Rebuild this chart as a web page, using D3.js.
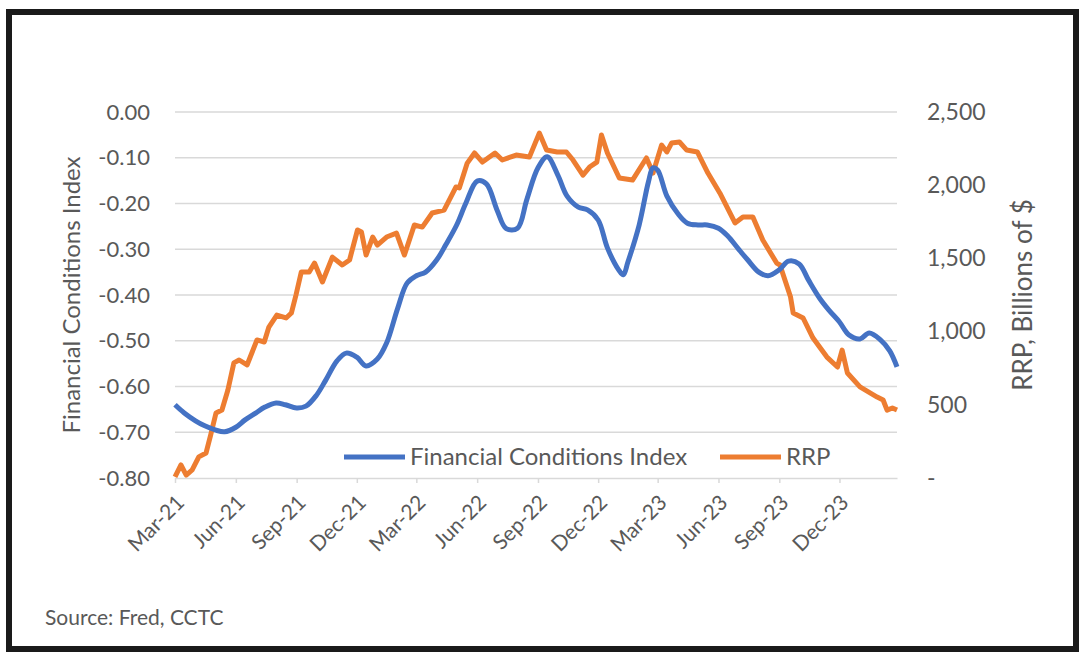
<!DOCTYPE html>
<html>
<head>
<meta charset="utf-8">
<script src="https://cdn.jsdelivr.net/npm/d3@7"></script>
<style>
  body { margin: 0; background: #fff; }
  text { font-family: Lato, "Open Sans", sans-serif; fill: #595959; }
</style>
</head>
<body>
<div class="canvas"></div>
<script>
// FCI, semi-monthly readings
const fciDates = ['2021-03-01','2021-03-15','2021-04-01','2021-04-15','2021-05-01','2021-05-15','2021-06-01','2021-06-15',
  '2021-07-01','2021-07-15','2021-08-01','2021-08-15','2021-09-01','2021-09-15','2021-10-01','2021-10-15',
  '2021-11-01','2021-11-15','2021-12-01','2021-12-15','2022-01-01','2022-01-15','2022-02-01','2022-02-15',
  '2022-03-01','2022-03-15','2022-04-01','2022-04-15','2022-05-01','2022-05-15','2022-06-01','2022-06-15',
  '2022-07-01','2022-07-15','2022-08-01','2022-08-15','2022-09-01','2022-09-15','2022-10-01','2022-10-15',
  '2022-11-01','2022-11-15','2022-12-01','2022-12-15','2023-01-01','2023-01-08','2023-01-15','2023-02-01',
  '2023-02-15','2023-02-22','2023-03-01','2023-03-15','2023-04-01','2023-04-15','2023-05-01','2023-05-15',
  '2023-06-01','2023-06-15','2023-07-01','2023-07-15','2023-08-01','2023-08-15','2023-09-01','2023-09-15',
  '2023-10-01','2023-10-15','2023-11-01','2023-11-15','2023-12-01','2023-12-15','2024-01-01','2024-01-15',
  '2024-02-01','2024-02-15','2024-02-26']
const fciValues = [-0.640,-0.658,-0.675,-0.686,-0.695,-0.699,-0.689,-0.673,
  -0.658,-0.645,-0.636,-0.640,-0.647,-0.643,-0.619,-0.586,
  -0.544,-0.527,-0.536,-0.555,-0.540,-0.505,-0.428,-0.374,
  -0.358,-0.350,-0.323,-0.289,-0.247,-0.199,-0.151,-0.157,
  -0.214,-0.255,-0.254,-0.192,-0.122,-0.098,-0.138,-0.184,
  -0.208,-0.214,-0.236,-0.297,-0.345,-0.356,-0.328,-0.247,
  -0.153,-0.122,-0.127,-0.184,-0.223,-0.243,-0.247,-0.247,
  -0.254,-0.271,-0.299,-0.323,-0.350,-0.358,-0.345,-0.326,
  -0.332,-0.367,-0.407,-0.433,-0.459,-0.487,-0.496,-0.483,
  -0.498,-0.522,-0.557]

// RRP, billions
const rrpDates = ['2021-03-01','2021-03-10','2021-03-18','2021-03-27','2021-04-06','2021-04-17','2021-04-24','2021-05-02',
  '2021-05-11','2021-05-20','2021-05-29','2021-06-06','2021-06-18','2021-07-03','2021-07-14','2021-07-21',
  '2021-08-02','2021-08-16','2021-08-24','2021-08-31','2021-09-08','2021-09-20','2021-09-28','2021-10-10',
  '2021-10-25','2021-11-09','2021-11-20','2021-12-02','2021-12-08','2021-12-15','2021-12-25','2022-01-01',
  '2022-01-15','2022-01-30','2022-02-11','2022-02-26','2022-03-10','2022-03-25','2022-04-12','2022-04-30',
  '2022-05-05','2022-05-17','2022-05-28','2022-06-09','2022-06-28','2022-07-09','2022-07-30','2022-08-19',
  '2022-09-03','2022-09-14','2022-09-30','2022-10-14','2022-10-24','2022-11-08','2022-11-18','2022-11-29',
  '2022-12-06','2022-12-15','2023-01-02','2023-01-22','2023-02-12','2023-02-22','2023-03-07','2023-03-15',
  '2023-03-22','2023-04-03','2023-04-14','2023-04-30','2023-05-16','2023-06-03','2023-06-26','2023-07-08',
  '2023-07-23','2023-08-07','2023-08-28','2023-09-02','2023-09-18','2023-09-22','2023-10-07','2023-10-22',
  '2023-11-12','2023-11-28','2023-12-05','2023-12-13','2024-01-01','2024-01-27','2024-02-05','2024-02-11',
  '2024-02-19','2024-02-26']
const rrpValues = [7,89,20,55,144,171,294,444,
  464,601,786,806,772,943,929,1031,
  1113,1093,1127,1250,1407,1407,1468,1339,
  1509,1455,1489,1694,1680,1523,1646,1591,
  1646,1673,1523,1728,1714,1810,1830,1988,
  1981,2151,2220,2158,2220,2172,2206,2192,
  2356,2240,2227,2227,2172,2069,2124,2158,
  2343,2220,2049,2035,2186,2083,2274,2227,
  2288,2295,2240,2227,2083,1947,1742,1783,
  1783,1626,1468,1455,1236,1127,1093,956,
  826,758,874,717,622,553,533,464,
  478,464]

const leftTicks = [0, -0.1, -0.2, -0.3, -0.4, -0.5, -0.6, -0.7, -0.8]
const rightTicks = [0, 500, 1000, 1500, 2000, 2500]
const xTickDates = ['2021-03-01','2021-06-01','2021-09-01','2021-12-01','2022-03-01','2022-06-01',
  '2022-09-01','2022-12-01','2023-03-01','2023-06-01','2023-09-01','2023-12-01']
const seriesNames = ['Financial Conditions Index', 'RRP']
const xStart = '2021-03-01', xEnd = '2024-02-26'

const margin = { top: 112, right: 193, bottom: 186, left: 175 }
const graphWidth = 1090 - margin.left - margin.right
const graphHeight = 664 - margin.top - margin.bottom

const parse = d3.timeParse('%Y-%m-%d')
const blue = '#4472C4', orange = '#ED7D31'

const svg = d3.select('.canvas')
    .append('svg')
    .attr('width', 1090)
    .attr('height', 664)

// frame
svg.append('rect')
    .attr('x', 9).attr('y', 12)
    .attr('width', 1067).attr('height', 637)
    .attr('fill', 'none')
    .attr('stroke', '#1a1a1a')
    .attr('stroke-width', 6)

const graph = svg.append('g')
    .attr('transform', `translate(${margin.left}, ${margin.top})`)

// scales
const x = d3.scaleTime().domain([parse(xStart), parse(xEnd)]).range([0, graphWidth])
const yL = d3.scaleLinear().domain([-0.8, 0]).range([graphHeight, 0])
const yR = d3.scaleLinear().domain([0, 2500]).range([graphHeight, 0])

// gridlines
graph.append('g')
    .selectAll('line')
    .data(leftTicks.filter(d => d !== -0.8))
    .enter().append('line')
        .attr('x1', 0).attr('x2', graphWidth)
        .attr('y1', d => yL(d)).attr('y2', d => yL(d))
        .attr('stroke', '#d9d9d9')
        .attr('stroke-width', 1.5)

// left axis (excel style hyphen, not unicode minus)
const yAxisGroup = graph.append('g')
    .call(d3.axisLeft(yL).tickValues(leftTicks).tickFormat(d => d3.format('.2f')(d).replace('\u2212', '-')).tickSize(0).tickPadding(25))
yAxisGroup.select('.domain').remove()
yAxisGroup.selectAll('text').style('font-size', '22px').style('font-family', 'Lato').attr('fill', '#595959')

// right axis
const yRAxisGroup = graph.append('g')
    .attr('transform', `translate(${graphWidth}, 0)`)
    .call(d3.axisRight(yR).tickValues(rightTicks).tickFormat(d => d === 0 ? '-' : d3.format(',')(d)).tickSize(0).tickPadding(30))
yRAxisGroup.select('.domain').remove()
yRAxisGroup.selectAll('text').style('font-size', '23px').style('font-family', 'Lato').attr('fill', '#595959')

// x axis
const xAxisGroup = graph.append('g')
    .attr('transform', `translate(0, ${graphHeight})`)
    .call(d3.axisBottom(x).tickValues(xTickDates.map(parse)).tickFormat(d3.timeFormat('%b-%y')).tickSizeInner(5).tickSizeOuter(0))
xAxisGroup.select('.domain').attr('stroke', '#d9d9d9').attr('stroke-width', 1.5)
xAxisGroup.selectAll('.tick line').attr('stroke', '#d9d9d9').attr('stroke-width', 1.5)
xAxisGroup.selectAll('text')
    .style('font-size', '21px').style('font-family', 'Lato').attr('fill', '#595959')
    .attr('text-anchor', 'end')
    .attr('y', 0).attr('dy', 0)
    .attr('transform', 'translate(10, 26) rotate(-45)')

// lines
const fciLine = d3.line()
    .curve(d3.curveCatmullRom)
    .x((d, i) => x(parse(fciDates[i])))
    .y(d => yL(d))

const rrpLine = d3.line()
    .x((d, i) => x(parse(rrpDates[i])))
    .y(d => yR(d))

graph.append('path')
    .datum(rrpValues)
    .attr('fill', 'none')
    .attr('stroke', orange)
    .attr('stroke-width', 5)
    .attr('stroke-linejoin', 'round')
    .attr('d', rrpLine)

graph.append('path')
    .datum(fciValues)
    .attr('fill', 'none')
    .attr('stroke', blue)
    .attr('stroke-width', 5)
    .attr('stroke-linejoin', 'round')
    .attr('d', fciLine)

// legend
const legend = svg.append('g').attr('transform', 'translate(344, 457)')
const legendItems = [
    { name: seriesNames[0], color: blue, dx: 0 },
    { name: seriesNames[1], color: orange, dx: 376 }
]
legendItems.forEach(item => {
    legend.append('line')
        .attr('x1', item.dx).attr('x2', item.dx + 61)
        .attr('y1', 0).attr('y2', 0)
        .attr('stroke', item.color)
        .attr('stroke-width', 5)
    legend.append('text')
        .attr('x', item.dx + 66).attr('y', 0).attr('dy', '0.35em')
        .style('font-size', '24px')
        .text(item.name)
})

// axis titles
svg.append('text')
    .attr('transform', 'translate(72, 295) rotate(-90)')
    .attr('text-anchor', 'middle').attr('dy', '0.35em')
    .style('font-size', '24px')
    .text(seriesNames[0])

svg.append('text')
    .attr('transform', 'translate(1023, 295) rotate(-90)')
    .attr('text-anchor', 'middle').attr('dy', '0.35em')
    .style('font-size', '26px')
    .text('RRP, Billions of $')

// source
svg.append('text')
    .attr('x', 45).attr('y', 625)
    .style('font-size', '21px')
    .text('Source: Fred, CCTC')
</script>
</body>
</html>
